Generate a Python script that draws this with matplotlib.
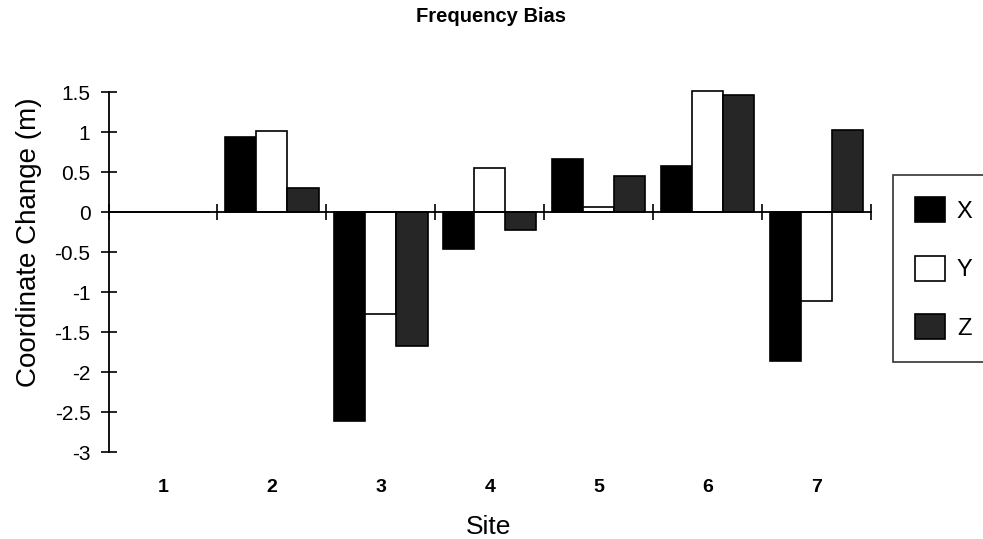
import numpy as np
import matplotlib.pyplot as plt
from matplotlib.transforms import blended_transform_factory

plt.rcParams['font.family'] = ['Liberation Sans', 'DejaVu Sans']

sites = ['1', '2', '3', '4', '5', '6', '7']
x_vals = [0.0, 0.94, -2.61, -0.46, 0.66, 0.57, -1.86]
y_vals = [0.0, 1.01, -1.27, 0.55, 0.06, 1.51, -1.11]
z_vals = [0.0, 0.30, -1.68, -0.23, 0.45, 1.46, 1.02]
series = [('X', x_vals, 'black'), ('Y', y_vals, 'white'), ('Z', z_vals, '#262626')]

fig = plt.figure(figsize=(9.83, 5.39), dpi=100)
ax = fig.add_axes([108.5 / 983, 1 - 452 / 539, (871 - 108.5) / 983, 360 / 539])

idx = np.arange(len(sites))
w = 0.286
for k, (name, vals, col) in enumerate(series):
    ax.bar(idx + (k - 1) * w, vals, w, color=col, edgecolor='black', linewidth=1.2,
           label=name, clip_on=False)

ax.set_xlim(-0.5, len(sites) - 0.5)
ax.set_ylim(-3, 1.5)
ax.set_yticks(np.arange(-3, 1.51, 0.5))
ax.set_yticklabels(['-3', '-2.5', '-2', '-1.5', '-1', '-0.5', '0', '0.5', '1', '1.5'], fontsize=15)
ax.spines['top'].set_visible(False)
ax.spines['right'].set_visible(False)
ax.spines['bottom'].set_position(('data', 0))
ax.spines['left'].set_linewidth(1.3)
ax.spines['bottom'].set_linewidth(1.3)
ax.tick_params(axis='y', direction='inout', length=12, width=1.2, pad=7)
ax.set_xticks(np.arange(-0.5, len(sites), 1.0))
ax.tick_params(axis='x', direction='inout', length=12, width=1.2, labelbottom=False)

# category labels sit well below the plot, in a row of their own
trans = blended_transform_factory(ax.transData, fig.transFigure)
for i, s in enumerate(sites):
    ax.text(i, 1 - 487 / 539, s, transform=trans, ha='center', va='center',
            fontsize=14, fontweight='bold')

fig.text(0.497, 1 - 527 / 539, 'Site', ha='center', va='center', fontsize=19)
fig.text(29 / 983, 1 - 242 / 539, 'Coordinate Change (m)', rotation=90,
         ha='center', va='center', fontsize=20)
fig.text(0.5, 1 - 17 / 539, 'Frequency Bias', ha='center', va='center',
         fontsize=14.5, fontweight='bold')

leg = ax.legend(loc='upper left', bbox_to_anchor=(893 / 983, 1 - 175 / 539),
                bbox_transform=fig.transFigure, borderaxespad=0, fontsize=17,
                frameon=True, fancybox=False, edgecolor='black',
                handlelength=1.25, handleheight=1.25, labelspacing=1.4,
                borderpad=0.95, handletextpad=0.5)
leg.get_frame().set_linewidth(1.2)

fig.savefig('out.png', dpi=100)
